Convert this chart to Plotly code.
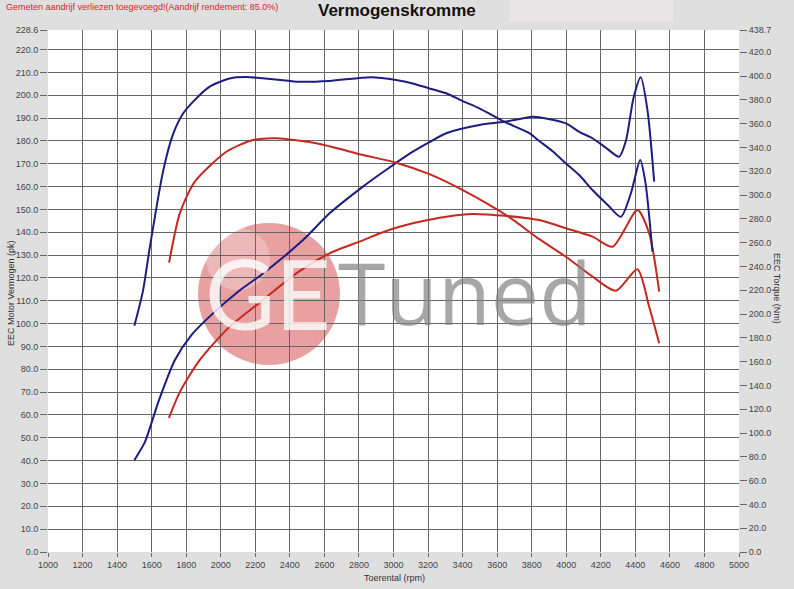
import plotly.graph_objects as go

# ---------------- data ----------------
# Tuned (blue) torque, Nm (right axis)
tuned_torque_rpm = [1500, 1549, 1590, 1667, 1724, 1782, 1850, 1936, 2052, 2148, 2302, 2437, 2630,
                    2870, 3015, 3112, 3208, 3305, 3401, 3497, 3642, 3786, 3844, 3921, 3998, 4075,
                    4152, 4240, 4316, 4374, 4428, 4458, 4499]
tuned_torque_nm = [190.2, 218.8, 256.6, 320.5, 351.2, 368.5, 380.0, 391.1, 398.0, 399.2, 397.3, 395.3,
                   395.9, 399.0, 396.7, 393.8, 389.6, 385.5, 379.0, 372.9, 361.6, 352.0, 345.4, 336.8,
                   326.6, 316.8, 304.2, 291.7, 281.7, 301.3, 329.5, 310.9, 252.4]

# Tuned (blue) power, pk (left axis)
tuned_power_rpm = [1500, 1560, 1640, 1734, 1830, 1955, 2100, 2245, 2476, 2630, 2823, 2919, 3015, 3112,
                   3208, 3305, 3497, 3642, 3805, 3844, 3998, 4075, 4152, 4230, 4306, 4345, 4390,
                   4431, 4470, 4509]
tuned_power_pk = [40.3, 48.0, 66.0, 84.0, 95.0, 104.5, 114.0, 122.0, 136.6, 148.3, 160.0, 165.3, 170.4,
                  175.3, 179.5, 183.4, 187.0, 188.4, 190.6, 190.4, 187.7, 184.0, 181.2, 177.0, 173.1,
                  180.0, 199.0, 207.9, 193.6, 162.2]

# Stock (red) torque, Nm (right axis)
stock_torque_rpm = [1701, 1763, 1850, 2033, 2187, 2322, 2553, 2823, 3015, 3208, 3401, 3661, 3844,
                    3998, 4152, 4287, 4412, 4480, 4538]
stock_torque_nm = [243.2, 284.6, 311.3, 336.4, 346.2, 347.7, 343.5, 333.7, 327.2, 317.6, 304.2, 282.3,
                   262.9, 248.1, 231.4, 219.5, 237.6, 206.1, 175.4]

# Stock (red) power, pk (left axis)
stock_power_rpm = [1700, 1763, 1879, 2052, 2245, 2437, 2630, 2823, 2919, 3015, 3112, 3208, 3305, 3458,
                   3661, 3786, 3844, 3940, 3998, 4152, 4268, 4412, 4480, 4538]
stock_power_pk = [58.7, 70.0, 84.1, 98.7, 110.4, 122.0, 130.8, 136.5, 139.5, 142.0, 144.0, 145.5, 146.8,
                  148.0, 147.1, 146.1, 145.4, 143.2, 141.8, 138.1, 133.7, 149.8, 139.6, 114.0]

# axes / ticks
x_ticks = list(range(1000, 5001, 200))
x_grid = list(range(1200, 4801, 200))
pk_grid = list(range(10, 221, 10))
pk_edge_ticks = [0.0, 228.6]
nm_ticks = [float(v) for v in range(0, 421, 20)] + [438.7]
PK_MAX = 228.6
NM_MAX = 438.7

title_text = "Vermogenskromme"
note_text = "Gemeten aandrijf verliezen toegevoegd!(Aandrijf rendement: 85.0%)"

BLUE = "#1d1d80"
RED = "#c4281e"
FONT = "Liberation Sans, Arial, sans-serif"

fig = go.Figure()
fig.add_trace(go.Scatter(x=tuned_torque_rpm, y=tuned_torque_nm, yaxis="y2", mode="lines",
                         line=dict(color=BLUE, width=2, shape="spline", smoothing=0.7), name="Tuned torque"))
fig.add_trace(go.Scatter(x=tuned_power_rpm, y=tuned_power_pk, mode="lines",
                         line=dict(color=BLUE, width=2, shape="spline", smoothing=0.7), name="Tuned power"))
fig.add_trace(go.Scatter(x=stock_torque_rpm, y=stock_torque_nm, yaxis="y2", mode="lines",
                         line=dict(color=RED, width=2, shape="spline", smoothing=0.7), name="Stock torque"))
fig.add_trace(go.Scatter(x=stock_power_rpm, y=stock_power_pk, mode="lines",
                         line=dict(color=RED, width=2, shape="spline", smoothing=0.7), name="Stock power"))
# empty helper trace so the labelled tick axes (x2 / y3) are drawn
fig.add_trace(go.Scatter(x=[x_ticks[0], x_ticks[-1]], y=[None, None], xaxis="x2", yaxis="y3",
                         mode="lines", hoverinfo="skip", showlegend=False))

tickfont = dict(family=FONT, size=9, color="#444")
L, R, T, B = 48, 55, 30, 37
W, H = 794, 589
pw, ph = W - L - R, H - T - B


def px(xp):
    return (xp - L) / pw


def py(yp):
    return (H - B - yp) / ph


fig.update_layout(
    width=W, height=H, autosize=False,
    margin=dict(l=L, r=R, t=T, b=B, pad=0),
    paper_bgcolor="#dfdfdf", plot_bgcolor="white",
    showlegend=False,
    xaxis=dict(range=[1000, 5000], tickvals=x_grid, showticklabels=False, ticks="",
               showgrid=True, gridcolor="#666", gridwidth=1, zeroline=False, showline=False),
    xaxis2=dict(range=[1000, 5000], overlaying="x", anchor="y", side="bottom",
                tickvals=x_ticks, ticktext=[str(v) for v in x_ticks], ticks="outside", ticklen=4,
                tickcolor="#666", tickfont=tickfont, showgrid=False, zeroline=False, showline=False),
    yaxis=dict(range=[0, PK_MAX], tickvals=pk_grid, ticktext=[f"{v:.1f}" for v in pk_grid],
               ticks="outside", ticklen=7, tickcolor="#666", tickfont=tickfont,
               showgrid=True, gridcolor="#666", gridwidth=1, zeroline=False, showline=False),
    yaxis3=dict(range=[0, PK_MAX], overlaying="y", anchor="x", side="left",
                tickvals=pk_edge_ticks, ticktext=[f"{v:.1f}" for v in pk_edge_ticks],
                ticks="outside", ticklen=7, tickcolor="#666", tickfont=tickfont,
                showgrid=False, zeroline=False, showline=False),
    yaxis2=dict(range=[0, NM_MAX], overlaying="y", anchor="x", side="right",
                tickvals=nm_ticks, ticktext=[f"{v:.1f}" for v in nm_ticks],
                ticks="outside", ticklen=7, tickcolor="#666", tickfont=tickfont,
                showgrid=False, zeroline=False, showline=False),
)

shapes = [
    # lighter box at top
    dict(type="rect", xref="paper", yref="paper", x0=px(510), x1=px(673), y0=py(22), y1=py(0),
         fillcolor="#e8e6e6", line=dict(width=0), layer="below"),
    # logo circle
    dict(type="circle", xref="paper", yref="paper", x0=px(198), x1=px(340), y0=py(365), y1=py(223),
         fillcolor="#e8a0a0", line=dict(width=0), layer="below"),
    dict(type="circle", xref="paper", yref="paper", x0=px(206), x1=px(270), y0=py(290), y1=py(228),
         fillcolor="rgba(255,255,255,0.25)", line=dict(width=0), layer="below"),
]
fig.update_layout(shapes=shapes)

annotations = [
    dict(text=note_text, xref="paper", yref="paper", x=px(4), y=py(7), xanchor="left", yanchor="middle",
         showarrow=False, font=dict(family=FONT, size=9, color="#cc2a2a")),
    dict(text=f"<b>{title_text}</b>", xref="paper", yref="paper", x=px(397), y=py(11),
         xanchor="center", yanchor="middle", showarrow=False,
         font=dict(family=FONT, size=17, color="#111")),
    dict(text="EEC Motor Vermogen (pk)", xref="paper", yref="paper", x=px(11), y=py(293),
         xanchor="center", yanchor="middle", textangle=-90, showarrow=False,
         font=dict(family=FONT, size=9, color="#333")),
    dict(text="EEC Torque (Nm)", xref="paper", yref="paper", x=px(777), y=py(289),
         xanchor="center", yanchor="middle", textangle=90, showarrow=False,
         font=dict(family=FONT, size=9, color="#333")),
    dict(text="Toerental (rpm)", xref="paper", yref="paper", x=px(395), y=py(578),
         xanchor="center", yanchor="middle", showarrow=False,
         font=dict(family=FONT, size=9, color="#333")),
    # logo text
    dict(text="GE", xref="paper", yref="paper", x=px(268), y=py(292), xanchor="center", yanchor="middle",
         showarrow=False, font=dict(family="Lato, sans-serif", size=96, color="rgba(255,255,255,0.8)")),
    dict(text="Tuned", xref="paper", yref="paper", x=px(336), y=py(291), xanchor="left", yanchor="middle",
         showarrow=False, font=dict(family="Open Sans, sans-serif", size=86,
                                    color="rgba(130,130,130,0.7)")),
]
fig.update_layout(annotations=annotations)

fig.write_html("out.html", config={"displayModeBar": False},
               post_script="document.body.style.margin='0px';")
